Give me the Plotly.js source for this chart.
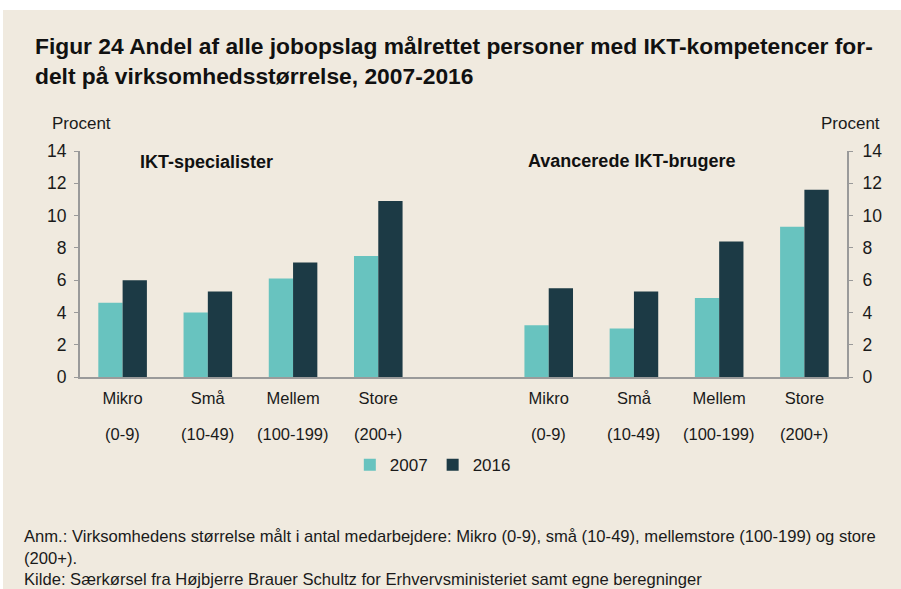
<!DOCTYPE html>
<html>
<head>
<meta charset="utf-8">
<script src="https://cdn.plot.ly/plotly-3.0.1.min.js"></script>
<style>
  html, body { margin: 0; padding: 0; background: #ffffff; width: 901px; height: 589px; overflow: hidden; }
  #chart { position: absolute; left: 3px; top: 10px; width: 898px; height: 579px; }
</style>
</head>
<body>
<div id="chart"></div>
<script>
// ---- Data ----
const sizeNames = ["Mikro", "Små", "Mellem", "Store"];
const sizeRanges = ["(0-9)", "(10-49)", "(100-199)", "(200+)"];
const seriesNames = ["2007", "2016"];
const specialister2007 = [4.6, 4.0, 6.1, 7.5];
const specialister2016 = [6.0, 5.3, 7.1, 10.9];
const brugere2007 = [3.2, 3.0, 4.9, 9.3];
const brugere2016 = [5.5, 5.3, 8.4, 11.6];
const panelTitles = ["IKT-specialister", "Avancerede IKT-brugere"];
const yTickVals = [0, 2, 4, 6, 8, 10, 12, 14];

// ---- Build ----
const colors = ["#68c3bf", "#1c3a45"];
const leftX = sizeNames.map((_, i) => i);
const rightX = sizeNames.map((_, i) => i + sizeNames.length + 1);

const FONT = "Liberation Sans, Arial, sans-serif";
const TXT = "#1a1a1a";

const traces = [
  { type: "bar", name: seriesNames[0], x: leftX, y: specialister2007, yaxis: "y",
    marker: { color: colors[0] }, legendgroup: "a", hoverinfo: "y" },
  { type: "bar", name: seriesNames[1], x: leftX, y: specialister2016, yaxis: "y",
    marker: { color: colors[1] }, legendgroup: "b", hoverinfo: "y" },
  { type: "bar", name: seriesNames[0], x: rightX, y: brugere2007, yaxis: "y2",
    marker: { color: colors[0] }, legendgroup: "a", showlegend: false, hoverinfo: "y" },
  { type: "bar", name: seriesNames[1], x: rightX, y: brugere2016, yaxis: "y2",
    marker: { color: colors[1] }, legendgroup: "b", showlegend: false, hoverinfo: "y" }
];

// size-range labels as a second line under each category name
const rangeAnnotations = leftX.concat(rightX).map((xv, k) => ({
  text: sizeRanges[k % sizeRanges.length], xref: "x", yref: "paper",
  x: xv, y: (367 - 424) / 226, xanchor: "center", yanchor: "middle",
  showarrow: false, font: { family: FONT, size: 16.5, color: TXT }
}));

const axisGray = "#9a9a9a";
const layout = {
  width: 898, height: 579,
  paper_bgcolor: "#f0eadf",
  plot_bgcolor: "#f0eadf",
  font: { family: FONT, size: 16, color: TXT },
  margin: { l: 77, r: 54, t: 141, b: 212 },
  barmode: "group",
  bargap: 0.43,
  bargroupgap: 0,
  showlegend: true,
  title: {
    text: "Figur 24 Andel af alle jobopslag målrettet personer med IKT-kompetencer for-<br>delt på virksomhedsstørrelse, 2007-2016",
    font: { family: FONT, size: 22.8, color: "#111111", weight: "bold" },
    xref: "container", x: 32 / 898, xanchor: "left",
    yref: "container", y: 1 - 44 / 579, yanchor: "top"
  },
  xaxis: {
    range: [-0.5, sizeNames.length * 2 + 0.5],
    tickmode: "array",
    tickvals: leftX.concat(rightX),
    ticktext: sizeNames.concat(sizeNames),
    ticks: "", showgrid: false, zeroline: false,
    showline: true, linecolor: axisGray, linewidth: 2,
    tickfont: { family: FONT, size: 16.5, color: TXT },
    ticklabelstandoff: 5,
    fixedrange: true
  },
  yaxis: {
    range: [0, 14], tickmode: "array", tickvals: yTickVals,
    ticks: "outside", ticklen: 4, tickcolor: axisGray, tickwidth: 1,
    showline: true, linecolor: axisGray, linewidth: 2,
    showgrid: false, zeroline: false,
    tickfont: { family: FONT, size: 17.5, color: TXT },
    ticklabelstandoff: 4,
    fixedrange: true
  },
  yaxis2: {
    range: [0, 14], tickmode: "array", tickvals: yTickVals,
    overlaying: "y", side: "right",
    ticks: "outside", ticklen: 4, tickcolor: axisGray, tickwidth: 1,
    showline: true, linecolor: axisGray, linewidth: 2,
    showgrid: false, zeroline: false,
    tickfont: { family: FONT, size: 17.5, color: TXT },
    ticklabelstandoff: 6,
    fixedrange: true
  },
  legend: {
    orientation: "h", x: 0.46, xanchor: "center",
    y: -0.39, yanchor: "middle",
    bgcolor: "rgba(0,0,0,0)",
    font: { family: FONT, size: 17, color: TXT },
    itemwidth: 30, traceorder: "normal"
  },
  annotations: [
    { text: "Procent", xref: "paper", yref: "paper", x: (78 - 77) / 767, y: 1 + (141 - 114) / 226,
      xanchor: "center", yanchor: "middle", showarrow: false, font: { size: 17 } },
    { text: "Procent", xref: "paper", yref: "paper", x: (847 - 77) / 767, y: 1 + (141 - 114) / 226,
      xanchor: "center", yanchor: "middle", showarrow: false, font: { size: 17 } },
    { text: "<b>" + panelTitles[0] + "</b>", xref: "paper", yref: "paper", x: (203 - 77) / 767, y: 1 - (152 - 141) / 226,
      xanchor: "center", yanchor: "middle", showarrow: false, font: { size: 18, color: "#111" } },
    { text: "<b>" + panelTitles[1] + "</b>", xref: "paper", yref: "paper", x: (628 - 77) / 767, y: 1 - (151 - 141) / 226,
      xanchor: "center", yanchor: "middle", showarrow: false, font: { size: 18, color: "#111" } },
    { text: "Anm.: Virksomhedens størrelse målt i antal medarbejdere: Mikro (0-9), små (10-49), mellemstore (100-199) og store<br>(200+).<br>Kilde: Særkørsel fra Højbjerre Brauer Schultz for Erhvervsministeriet samt egne beregninger",
      xref: "paper", yref: "paper", x: (19 - 77) / 767, y: 1 - (515 - 141) / 226,
      xanchor: "left", yanchor: "top", align: "left", showarrow: false, font: { size: 16.6, color: TXT } }
  ].concat(rangeAnnotations)
};

Plotly.newPlot("chart", traces, layout, { displayModeBar: false, staticPlot: true });
</script>
</body>
</html>
